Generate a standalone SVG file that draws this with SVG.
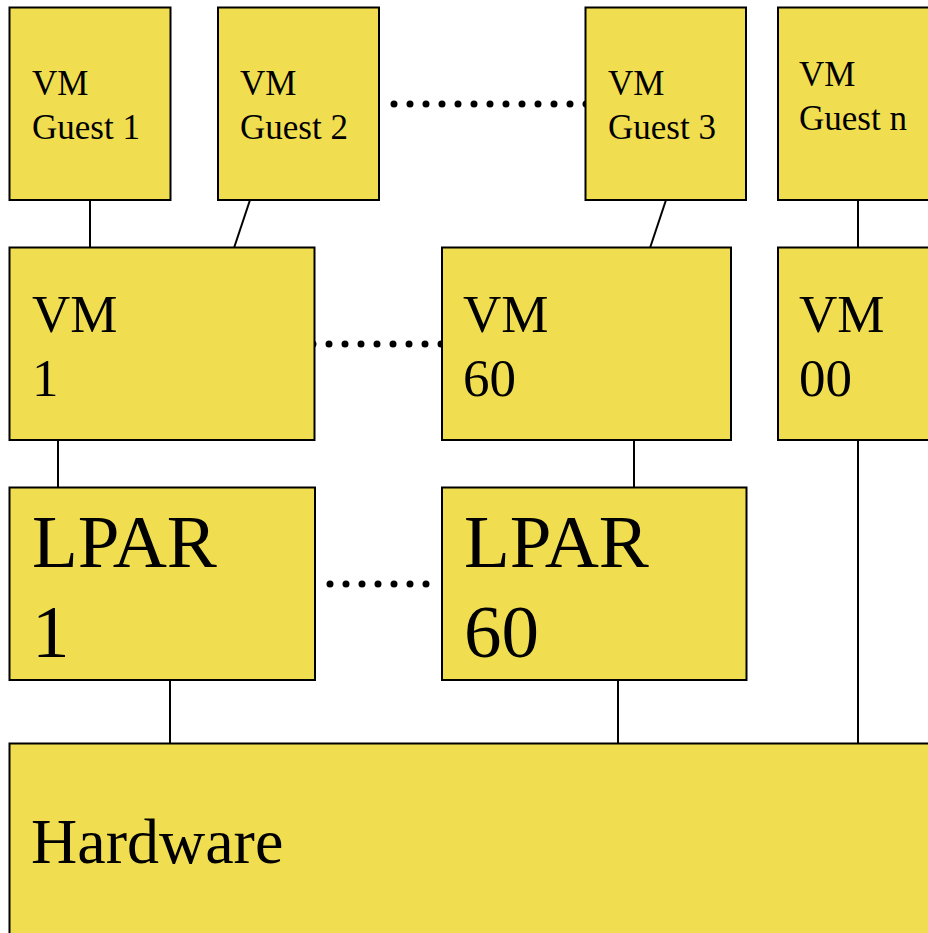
<svg xmlns="http://www.w3.org/2000/svg" width="928" height="933" viewBox="0 0 928 933" font-family="Liberation Serif, serif">
<style>
.box{fill:#F0DE50;stroke:#000;stroke-width:2}
.t{fill:#000}
.g{font-size:35px}
.v{font-size:53px}
.l{font-size:75px}
.h{font-size:64px}
.c{stroke:#000;stroke-width:2;fill:none}
.d{stroke:#000;stroke-width:7;stroke-linecap:round;stroke-dasharray:0 16;fill:none}
</style>
<rect width="928" height="933" fill="#fff"/>
<g id="connectors">
<line class="c" x1="90" y1="200" x2="90" y2="248"/>
<line class="c" x1="250" y1="200" x2="234" y2="248"/>
<line class="c" x1="666" y1="200" x2="650" y2="248"/>
<line class="c" x1="858" y1="200" x2="858" y2="248"/>
<line class="c" x1="58" y1="440" x2="58" y2="488"/>
<line class="c" x1="634" y1="440" x2="634" y2="488"/>
<line class="c" x1="858" y1="440" x2="858" y2="744"/>
<line class="c" x1="170" y1="680" x2="170" y2="744"/>
<line class="c" x1="618" y1="680" x2="618" y2="744"/>
<path class="d" d="M394 104H586.5"/>
<path class="d" d="M313 344H441.5"/>
<path class="d" d="M330 584H426.5"/>
</g>
<g id="guest1"><rect class="box" x="9.5" y="7.5" width="161" height="192.5"/><text class="t g" x="32" y="95">VM</text><text class="t g" x="32" y="139">Guest 1</text></g>
<g id="guest2"><rect class="box" x="218" y="7.5" width="161" height="192.5"/><text class="t g" x="240" y="95">VM</text><text class="t g" x="240" y="139">Guest 2</text></g>
<g id="guest3"><rect class="box" x="585.5" y="7.5" width="160.5" height="192.5"/><text class="t g" x="608" y="95">VM</text><text class="t g" x="608" y="139">Guest 3</text></g>
<g id="guestn"><rect class="box" x="778" y="7.5" width="170" height="192.5"/><text class="t g" x="799" y="86">VM</text><text class="t g" x="799" y="130">Guest n</text></g>
<g id="vm1"><rect class="box" x="9.5" y="247.5" width="305" height="192.5"/><text class="t v" x="32" y="332">VM</text><text class="t v" x="32" y="396">1</text></g>
<g id="vm60"><rect class="box" x="442" y="247.5" width="289" height="192.5"/><text class="t v" x="463" y="332">VM</text><text class="t v" x="463" y="396">60</text></g>
<g id="vm00"><rect class="box" x="778" y="247.5" width="170" height="192.5"/><text class="t v" x="799" y="332">VM</text><text class="t v" x="799" y="396">00</text></g>
<g id="lpar1"><rect class="box" x="9.5" y="487.5" width="305.5" height="192.5"/><text class="t l" x="32" y="567">LPAR</text><text class="t l" x="32" y="657">1</text></g>
<g id="lpar60"><rect class="box" x="442" y="487.5" width="304.5" height="192.5"/><text class="t l" x="464" y="567">LPAR</text><text class="t l" x="464" y="657">60</text></g>
<g id="hardware"><rect class="box" x="9.5" y="743.5" width="940" height="220"/><text class="t h" x="31" y="863">Hardware</text></g>
</svg>
